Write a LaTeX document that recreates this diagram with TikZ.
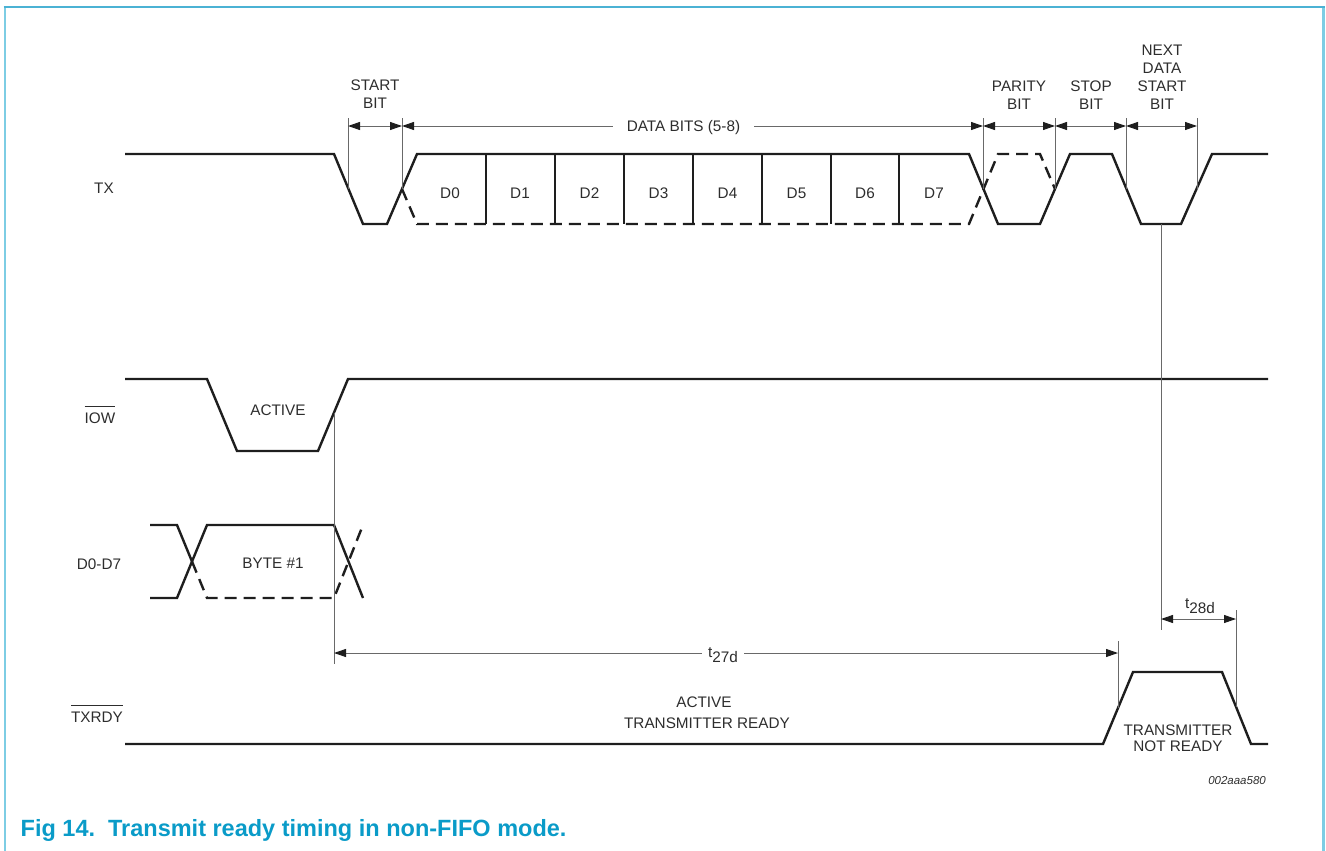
\documentclass[tikz,border=0pt]{standalone}
\usepackage{fontspec}
\setmainfont{Liberation Sans}
\usetikzlibrary{arrows.meta}
\definecolor{sig}{RGB}{30,30,30}
\definecolor{txt}{RGB}{45,45,45}
\definecolor{tickc}{RGB}{105,105,105}
\definecolor{frameside}{RGB}{125,205,228}
\definecolor{frametop}{RGB}{75,178,212}
\definecolor{capt}{RGB}{10,155,200}
\newcommand\ovbar[1]{\setbox0\hbox{#1}\rlap{\raisebox{\dimexpr\ht0+6pt\relax}{\rule{\wd0}{1pt}}}\box0}
\begin{document}
\begin{tikzpicture}[x=1pt,y=-1pt,
  sigline/.style={line width=2.4pt,draw=sig,line join=miter,line cap=butt},
  dashsig/.style={sigline,dash pattern=on 12pt off 7pt},
  tickline/.style={line width=0.9pt,draw=tickc},
  dimarrow/.style={line width=1pt,draw=tickc,{Triangle[length=12pt,width=8pt,color=sig]}-{Triangle[length=12pt,width=8pt,color=sig]}},
  lbl/.style={font=\fontsize{15.3}{18}\selectfont,text=txt,inner sep=0pt,align=center},
  gaplbl/.style={lbl,fill=white,inner xsep=12pt,inner ysep=3pt},
]
\useasboundingbox (0,0) rectangle (1326,851);
% frame
\draw[frameside,line width=2.6pt] (5,7) -- (5,851);
\draw[frameside,line width=2.6pt] (1323.5,7) -- (1323.5,851);
\draw[frametop,line width=1.8pt] (3.7,7) -- (1324.8,7);

% signal names
\node[lbl,anchor=base] (lTX) at (104,193) {TX};
\node[lbl,anchor=base] (lIOW) at (100,423.4) {\ovbar{IOW}};
\node[lbl,anchor=base] (lD) at (99,569.5) {D0-D7};
\node[lbl,anchor=base] (lTXRDY) at (97,722.5) {\ovbar{TXRDY}};

% ---------- TX ----------
\draw[sigline] (125,154) -- (334,154) -- (363,224) -- (387,224) -- (417,154) -- (969,154)
  -- (998,224) -- (1040,224) -- (1070,154) -- (1112,154) -- (1141,224) -- (1181,224)
  -- (1212,154) -- (1268,154);
\draw[dashsig] (402,189) -- (417,224) -- (969,224) -- (998,154) -- (1040,154) -- (1055,189);
\foreach \x in {486,555,624,693,762,831,899} \draw[sigline] (\x,154) -- (\x,224);
\foreach \n/\x in {0/450,1/520,2/589.5,3/658.5,4/727.5,5/796.5,6/865,7/934}
  \node[lbl,anchor=base] (d\n) at (\x,198) {D\n};

% bit ticks and dimension arrows
\foreach \x in {348,402,983,1055,1126,1197} {
  \coordinate (tt\x) at (\x,118);
  \coordinate (tb\x) at (\x,189);
  \coordinate (ta\x) at (\x,126);
  \draw[tickline] (tt\x) -- (tb\x);
}
\draw[dimarrow] (ta348) -- (ta402);
\draw[dimarrow] (ta402) -- (ta983);
\draw[dimarrow] (ta983) -- (ta1055);
\draw[dimarrow] (ta1055) -- (ta1126);
\draw[dimarrow] (ta1126) -- (ta1197);
\node[gaplbl,anchor=base,inner xsep=14pt] (databits) at (683.5,131.4) {DATA BITS (5-8)};
\node[lbl] (startbit) at (375,94) {START\\BIT};
\node[lbl] (paritybit) at (1019,95) {PARITY\\BIT};
\node[lbl] (stopbit) at (1091,95) {STOP\\BIT};
\node[lbl] (nextbit) at (1162,77) {NEXT\\DATA\\START\\BIT};

% ---------- IOW ----------
\draw[sigline] (125,379) -- (207,379) -- (237,451) -- (318,451) -- (348,379) -- (1268,379);
\node[lbl] (iowact) at (278,410) {ACTIVE};

% ---------- D0-D7 ----------
\draw[sigline] (150,525) -- (177,525) -- (192,561.5);
\draw[dashsig] (192,561.5) -- (207,598) -- (334,598) -- (363,525);
\draw[sigline] (150,598) -- (177,598) -- (207,525) -- (334,525) -- (363,598);
\node[lbl,anchor=base] (byte) at (273,568.4) {BYTE \#1};

% ---------- TXRDY ----------
\draw[sigline] (125,744) -- (1103,744) -- (1133,672) -- (1222,672) -- (1251,744) -- (1268,744);
\node[lbl] (rdyact) at (704,702) {ACTIVE};
\node[lbl] (rdytxt) at (707,723) {TRANSMITTER READY};
\node[lbl,font=\fontsize{15.3}{16}\selectfont] (notrdy) at (1178,738) {TRANSMITTER\\NOT READY};

% ---------- timing t27d ----------
\coordinate (w1t) at (334,413);
\coordinate (w1b) at (334,664);
\coordinate (w2t) at (1118,641);
\coordinate (w2b) at (1118,708);
\draw[tickline] (w1t) -- (w1b);
\draw[tickline] (w2t) -- (w2b);
\coordinate (w1a) at (334,653);
\coordinate (w2a) at (1118,653);
\draw[dimarrow] (w1a) -- (w2a);
\node[gaplbl,anchor=base,inner xsep=6pt] (t27) at (723,657.5) {t\raisebox{-5pt}{27d}};

% ---------- timing t28d ----------
\coordinate (v1t) at (1161,224);
\coordinate (v1b) at (1161,630);
\coordinate (v2t) at (1236,610);
\coordinate (v2b) at (1236,707);
\draw[tickline] (v1t) -- (v1b);
\draw[tickline] (v2t) -- (v2b);
\coordinate (v1a) at (1161,619);
\coordinate (v2a) at (1236,619);
\draw[dimarrow] (v1a) -- (v2a);
\node[lbl,anchor=base west] (t28) at (1185,608.5) {t\raisebox{-5pt}{28d}};

% ---------- code and caption ----------
\node[anchor=base east,inner sep=0pt,text=txt,font=\itshape\fontsize{11.5}{13}\selectfont] (code) at (1266,784) {002aaa580};
\node[anchor=base west,inner sep=0pt,text=capt,font=\bfseries\fontsize{23.5}{28}\selectfont] (caption) at (20.5,836.5) {Fig 14.\hspace{13pt}Transmit ready timing in non-FIFO mode.};
\end{tikzpicture}
\end{document}
